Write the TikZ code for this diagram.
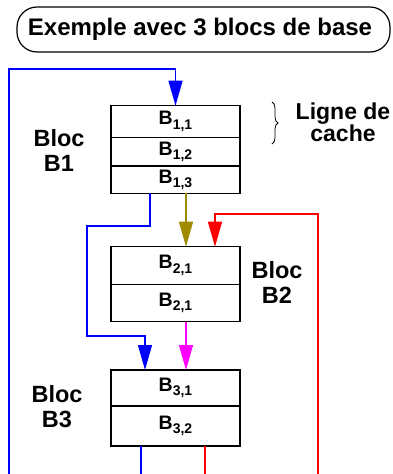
\documentclass[tikz,border=0pt]{standalone}
\usepackage{fontspec}
\setmainfont{Liberation Sans}
\usetikzlibrary{positioning,arrows.meta,decorations.pathreplacing}

\definecolor{kaki}{RGB}{160,140,0}
\definecolor{rose}{RGB}{255,0,255}
\newcommand\indice[1]{\raisebox{-4.5pt}{\fontsize{14}{14}\selectfont#1}}

\tikzset{
  case/.style={draw, line width=1.3pt, outer sep=0pt, inner sep=0pt,
    minimum width=129pt, font=\fontsize{19.5}{21}\selectfont\bfseries},
  etiq/.style={align=center, font=\fontsize{23.5}{25}\selectfont\bfseries},
  fleche/.style={line width=1.3pt, -{Triangle[length=25pt,width=14pt]}}
}

\begin{document}
\begin{tikzpicture}[x=1pt, y=-1pt]
    \useasboundingbox (0,0) rectangle (392,474);
    \clip (0,0) rectangle (392,474);
    % Titre
    \node[draw, line width=1.2pt, rounded corners=20pt, minimum width=373pt,
          minimum height=45pt, font=\fontsize{24}{26}\selectfont\bfseries]
          (titre) at (203.5,29.5) {Exemple avec 3 blocs de base\hspace*{7pt}};
    % Bloc B1
    \node[case, minimum height=31.6pt, anchor=north] (B11) at (175.5,105.7) {B\indice{1,1}};
    \node[case, minimum height=28.7pt, below=0pt of B11] (B12) {B\indice{1,2}};
    \node[case, minimum height=27.3pt, below=0pt of B12] (B13) {B\indice{1,3}};
    % Bloc B2
    \node[case, minimum height=37.6pt, anchor=north] (B21) at (175.5,246.7) {B\indice{2,1}};
    \node[case, minimum height=37.4pt, below=0pt of B21] (B22) {B\indice{2,1}};
    % Bloc B3
    \node[case, minimum height=36pt, anchor=north] (B31) at (175.5,370) {B\indice{3,1}};
    \node[case, minimum height=40pt, below=0pt of B31] (B32) {B\indice{3,2}};
    % Etiquettes
    \node[etiq] (lb1) at (59,150) {Bloc\\B1};
    \node[etiq] (lb2) at (277,282) {Bloc\\B2};
    \node[etiq] (lb3) at (57,407) {Bloc\\B3};
    \draw[line width=0.8pt, decorate, decoration={brace, amplitude=6pt}] (272,102) -- (272,144);
    \node[align=center, font=\fontsize{23}{22}\selectfont\bfseries] (ligne) at (343,122) {Ligne de\\cache};
    % Liens entre blocs
    \draw[fleche, blue] ([xshift=-34.5pt]B32.south) -- ++(0,44) -- (9,490) -- (9,69) -| (B11.north);
    \draw[fleche, blue] ([xshift=-25.5pt]B13.south) |- (87,226) -- (87,336) -| ([xshift=-30.5pt]B31.north);
    \draw[fleche, kaki] ([xshift=10.5pt]B13.south) -- ([xshift=10.5pt]B21.north);
    \draw[fleche, rose] ([xshift=10.5pt]B22.south) -- ([xshift=10.5pt]B31.north);
    \draw[fleche, red] ([xshift=29.5pt]B32.south) -- ++(0,44) -| (318,214) -| ([xshift=39.5pt]B21.north);
\end{tikzpicture}
\end{document}
